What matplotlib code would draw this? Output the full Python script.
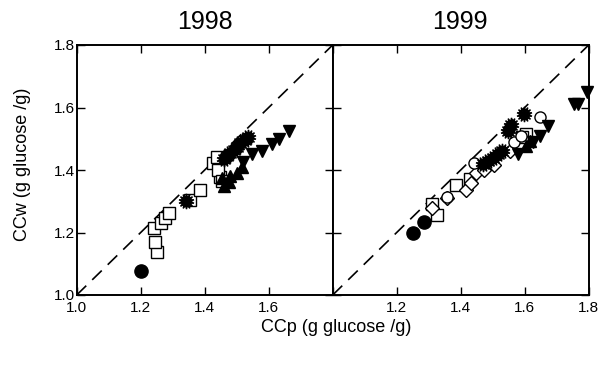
import numpy as np
import matplotlib.pyplot as plt

plt.rcParams['font.family'] = ['Liberation Sans', 'DejaVu Sans']

# --- 1998 panel ---
circ98_x = [1.20]
circ98_y = [1.077]
sq98_x = [1.25, 1.245, 1.24, 1.262, 1.276, 1.289, 1.354, 1.385, 1.427, 1.438, 1.448, 1.44, 1.455]
sq98_y = [1.139, 1.171, 1.213, 1.229, 1.245, 1.261, 1.304, 1.336, 1.421, 1.443, 1.379, 1.40, 1.365]
star98_x = [1.342, 1.46, 1.47, 1.48, 1.49, 1.50, 1.51, 1.525, 1.535]
star98_y = [1.302, 1.435, 1.445, 1.455, 1.465, 1.475, 1.485, 1.495, 1.505]
up98_x = [1.455, 1.46, 1.475, 1.48, 1.50, 1.515]
up98_y = [1.375, 1.35, 1.36, 1.38, 1.39, 1.41]
down98_x = [1.52, 1.549, 1.58, 1.611, 1.632, 1.664]
down98_y = [1.425, 1.451, 1.462, 1.483, 1.499, 1.526]

# --- 1999 panel ---
circ99_x = [1.251, 1.284]
circ99_y = [1.198, 1.235]
star99_x = [1.47, 1.485, 1.50, 1.515, 1.53, 1.547, 1.558, 1.597]
star99_y = [1.418, 1.43, 1.44, 1.452, 1.46, 1.526, 1.544, 1.58]
sq99_x = [1.31, 1.326, 1.384, 1.43, 1.605, 1.59]
sq99_y = [1.29, 1.256, 1.352, 1.37, 1.515, 1.505]
dia99_x = [1.31, 1.357, 1.415, 1.431, 1.447, 1.473, 1.505, 1.553]
dia99_y = [1.277, 1.309, 1.336, 1.357, 1.389, 1.40, 1.416, 1.462]
ocirc99_x = [1.357, 1.442, 1.568, 1.589, 1.647]
ocirc99_y = [1.315, 1.421, 1.489, 1.51, 1.569]
up99_x = [1.605, 1.616]
up99_y = [1.478, 1.494]
down99_x = [1.579, 1.626, 1.647, 1.674, 1.753, 1.768, 1.795]
down99_y = [1.451, 1.489, 1.51, 1.542, 1.612, 1.612, 1.65]

ticks = [1.0, 1.2, 1.4, 1.6, 1.8]

fig = plt.figure(figsize=(6.13, 3.67), dpi=100)
ax1 = fig.add_axes([76.7 / 613, 72 / 367, 256 / 613, 250 / 367])
ax2 = fig.add_axes([332.7 / 613, 72 / 367, 256 / 613, 250 / 367])

star = (14, 1, 0)
filled = dict(color='black', linestyle='none', markeredgecolor='black')
hollow = dict(color='black', linestyle='none', markerfacecolor='white',
              markeredgecolor='black', markeredgewidth=1.0)


def draw(ax, sets):
    ax.axline((1.0, 1.0), slope=1, color='black', lw=1.2, dashes=(8, 5), zorder=1)
    for xs, ys, m, ms, style in sets:
        ax.plot(xs, ys, marker=m, markersize=ms, zorder=3, clip_on=False, **style)
    ax.set_xlim(1.0, 1.8)
    ax.set_ylim(1.0, 1.8)
    ax.set_xticks(ticks)
    ax.set_yticks(ticks)
    ax.tick_params(direction='in', length=6, width=1, top=True, right=True,
                   labelsize=11)
    ax.tick_params(axis='x', pad=4)
    ax.tick_params(axis='y', pad=1)
    for s in ax.spines.values():
        s.set_linewidth(1.4)


draw(ax1, [
    (sq98_x, sq98_y, 's', 8, hollow),
    (circ98_x, circ98_y, 'o', 9.5, filled),
    (up98_x, up98_y, '^', 9, filled),
    (down98_x, down98_y, 'v', 9, filled),
    (star98_x, star98_y, star, 11, filled),
])
draw(ax2, [
    (sq99_x, sq99_y, 's', 8, hollow),
    (dia99_x, dia99_y, 'D', 7, hollow),
    (ocirc99_x, ocirc99_y, 'o', 8, hollow),
    (circ99_x, circ99_y, 'o', 9.5, filled),
    (up99_x, up99_y, '^', 9, filled),
    (down99_x, down99_y, 'v', 9, filled),
    (star99_x, star99_y, star, 11, filled),
])

ax1.set_xticklabels(['1.0', '1.2', '1.4', '1.6', ''])
ax2.set_xticklabels(['', '1.2', '1.4', '1.6', '1.8'])
ax2.set_yticklabels([])

fig.text(205 / 613, 1 - 22 / 367, '1998', ha='center', va='center', fontsize=18)
fig.text(460 / 613, 1 - 22 / 367, '1999', ha='center', va='center', fontsize=18)
fig.text(336 / 613, 1 - 327 / 367, 'CCp (g glucose /g)', ha='center', va='center', fontsize=13)
fig.text(23 / 613, 1 - 164 / 367, 'CCw (g glucose /g)', ha='center', va='center',
         rotation=90, fontsize=13)

fig.savefig('out.png', dpi=100)
